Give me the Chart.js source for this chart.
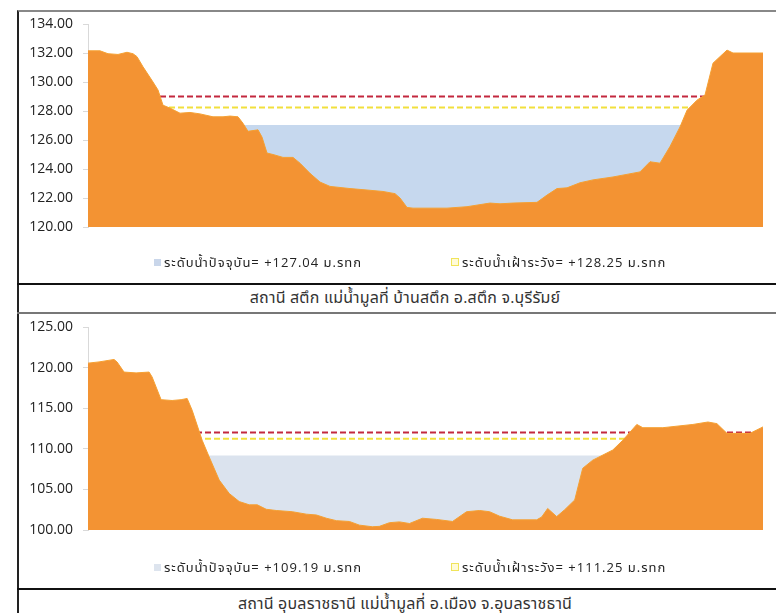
<!DOCTYPE html>
<html>
<head>
<meta charset="utf-8">
<script src="https://cdn.jsdelivr.net/npm/chart.js@4.4.1/dist/chart.umd.min.js"></script>
<style>
  body { margin: 0; width: 776px; height: 613px; overflow: hidden; background: #fff;
         font-family: 'Open Sans', 'Noto Sans Thai', 'Loma', 'Garuda', sans-serif; color: #222; }
  .frame { position: absolute; left: 17px; top: 10px; width: 780px; height: 610px;
           border-left: 2px solid #222; border-top: 2px solid #888; }
  .rule { position: absolute; left: 17px; width: 780px; }
  .box { position: absolute; left: 19px; width: 757px; height: 272px; }
  .caption { position: absolute; left: 19px; width: 772px; height: 26px; line-height: 26px;
             text-align: center; font-size: 16px; letter-spacing: 0.2px; color: #333; }
  .leg { position: absolute; font-size: 13px; letter-spacing: 1px; height: 16px; line-height: 16px;
         white-space: nowrap; color: #222; }
  .leg i { display: inline-block; width: 7px; height: 7px; margin-right: 3px; vertical-align: 1px; }
</style>
</head>
<body>
<div class="frame"></div>
<div class="rule" style="top:283px;border-top:2px solid #111"></div>
<div class="rule" style="top:312px;border-top:2px solid #777"></div>
<div class="rule" style="top:588px;border-top:2px solid #111"></div>

<div class="box" style="top:12px"><canvas id="chart1"></canvas></div>
<div class="leg" style="left:154px;top:254px"><i style="background:#c9d6ea"></i><span id="leg1a"></span></div>
<div class="leg" style="left:451px;top:254px"><i style="background:#fffbd8;border:1px solid #f0e45a;width:6px;height:6px"></i><span id="leg1b"></span></div>
<div class="caption" style="top:284px" id="cap1"></div>

<div class="box" style="top:315px"><canvas id="chart2"></canvas></div>
<div class="leg" style="left:154px;top:559px"><i style="background:#dde4ee"></i><span id="leg2a"></span></div>
<div class="leg" style="left:451px;top:559px"><i style="background:#fffbd8;border:1px solid #f0e45a;width:6px;height:6px"></i><span id="leg2b"></span></div>
<div class="caption" style="top:590px" id="cap2"></div>

<script>
// สถานี สตึก - cross section (distance, elevation m.MSL)
const dist1 = [0, 12, 20, 30, 39, 45, 49, 55, 65, 70, 75, 82, 92, 102, 112, 125, 135, 142, 150, 155,
  160, 165, 170, 174, 179, 185, 195, 205, 212, 222, 232, 242, 262, 279, 295, 307, 312, 319, 325, 359,
  379, 402, 412, 425, 449, 459, 469, 479, 492, 505, 525, 552, 562, 572, 582, 592, 599, 609, 617, 625,
  639, 645, 675];
const elev1 = [132.15, 132.15, 131.95, 131.9, 132.05, 131.95, 131.75, 131.05, 130.0, 129.45, 128.4, 128.2, 127.85, 127.9, 127.8, 127.6, 127.6, 127.65, 127.6, 127.15,
  126.6, 126.65, 126.7, 126.2, 125.1, 125.0, 124.8, 124.8, 124.4, 123.7, 123.1, 122.8, 122.65, 122.55, 122.45, 122.3, 122.0, 121.35, 121.3, 121.3,
  121.4, 121.65, 121.6, 121.65, 121.7, 122.2, 122.65, 122.7, 123.05, 123.25, 123.45, 123.8, 124.5, 124.4, 125.55, 126.9, 128.05, 128.75, 129.1, 131.3,
  132.2, 132.0, 132.0];
const yTicks1 = [120, 122, 124, 126, 128, 130, 132, 134];
const water1 = 127.04;
const warn1 = 128.25;
const alarm1 = 129.0;

// สถานี อุบลราชธานี
const dist2 = [0, 11, 26, 29, 36, 48, 61, 64, 73, 84, 93, 99, 104, 114, 121, 131, 141, 151, 161, 169,
  178, 188, 204, 218, 228, 238, 248, 261, 271, 284, 291, 301, 311, 321, 334, 348, 364, 378, 391, 401,
  411, 424, 448, 453, 459, 468, 476, 486, 494, 504, 524, 534, 548, 554, 574, 604, 619, 628, 638, 661, 674];
const elev2 = [120.55, 120.7, 121.0, 120.7, 119.45, 119.35, 119.45, 118.85, 116.05, 115.95, 116.05, 116.2, 114.75, 111.05, 109.0, 106.15, 104.5, 103.5, 103.1, 103.1,
  102.55, 102.4, 102.25, 101.95, 101.85, 101.45, 101.15, 101.05, 100.6, 100.4, 100.45, 100.9, 101.0, 100.8, 101.45, 101.3, 101.05, 102.25, 102.4, 102.25,
  101.7, 101.25, 101.25, 101.6, 102.65, 101.65, 102.5, 103.7, 107.6, 108.6, 109.85, 111.05, 113.0, 112.6, 112.6, 113.0, 113.3, 113.1, 111.9, 111.9, 112.7];
const yTicks2 = [100, 105, 110, 115, 120, 125];
const water2 = 109.19;
const warn2 = 111.25;
const alarm2 = 112.0;

const captions = ['สถานี สตึก แม่น้ำมูลที่ บ้านสตึก อ.สตึก จ.บุรีรัมย์', 'สถานี อุบลราชธานี แม่น้ำมูลที่ อ.เมือง จ.อุบลราชธานี'];
const waterLabel = 'ระดับน้ำปัจจุบัน= +';
const warnLabel = 'ระดับน้ำเฝ้าระวัง= +';
const unit = ' ม.รทก';

const fontFamily = "'Open Sans', 'Noto Sans Thai', sans-serif";

function flat(dist, level) {
  return [{x: dist[0], y: level}, {x: dist[dist.length - 1], y: level}];
}

function makeChart(id, dist, elev, ticks, water, warn, alarm, waterColor) {
  const ground = dist.map((d, i) => ({x: d, y: elev[i]}));
  return new Chart(document.getElementById(id), {
    type: 'line',
    data: {
      datasets: [
        { label: 'water', data: flat(dist, water), fill: 'start', backgroundColor: waterColor,
          borderWidth: 0, pointRadius: 0, order: 4 },
        { label: 'warn', data: flat(dist, warn), fill: false, borderColor: '#f2e03c',
          borderWidth: 2, borderDash: [6, 3], pointRadius: 0, order: 3 },
        { label: 'alarm', data: flat(dist, alarm), fill: false, borderColor: '#c3283e',
          borderWidth: 2, borderDash: [6, 3], pointRadius: 0, order: 2 },
        { label: 'ground', data: ground, fill: 'start', backgroundColor: '#f39333',
          borderColor: '#f5a032', borderWidth: 1, pointRadius: 0, tension: 0, order: 1 }
      ]
    },
    options: {
      responsive: true,
      maintainAspectRatio: false,
      animation: false,
      layout: { padding: { top: 12, bottom: 57, left: 7, right: 13 } },
      plugins: { legend: { display: false }, tooltip: { enabled: false } },
      scales: {
        x: { type: 'linear', display: false, min: dist[0], max: dist[dist.length - 1] },
        y: {
          min: ticks[0], max: ticks[ticks.length - 1],
          afterBuildTicks: s => { s.ticks = ticks.map(v => ({value: v})); },
          // keep the plot box where the original sits: fixed axis width, no extra top/bottom room
          afterFit: s => { s.width = 62; s.paddingTop = 0; s.paddingBottom = 0; },
          border: { display: true, color: '#d9d9d9' },
          grid: { drawOnChartArea: false, tickLength: 5, color: '#d9d9d9' },
          ticks: { padding: 10, color: '#222', font: { family: fontFamily, size: 14 },
                   callback: v => Number(v).toFixed(2) }
        }
      }
    }
  });
}

makeChart('chart1', dist1, elev1, yTicks1, water1, warn1, alarm1, '#c6d8ee');
makeChart('chart2', dist2, elev2, yTicks2, water2, warn2, alarm2, '#dbe3ee');

document.getElementById('leg1a').textContent = waterLabel + water1.toFixed(2) + unit;
document.getElementById('leg1b').textContent = warnLabel + warn1.toFixed(2) + unit;
document.getElementById('leg2a').textContent = waterLabel + water2.toFixed(2) + unit;
document.getElementById('leg2b').textContent = warnLabel + warn2.toFixed(2) + unit;
document.getElementById('cap1').textContent = captions[0];
document.getElementById('cap2').textContent = captions[1];
</script>
</body>
</html>
